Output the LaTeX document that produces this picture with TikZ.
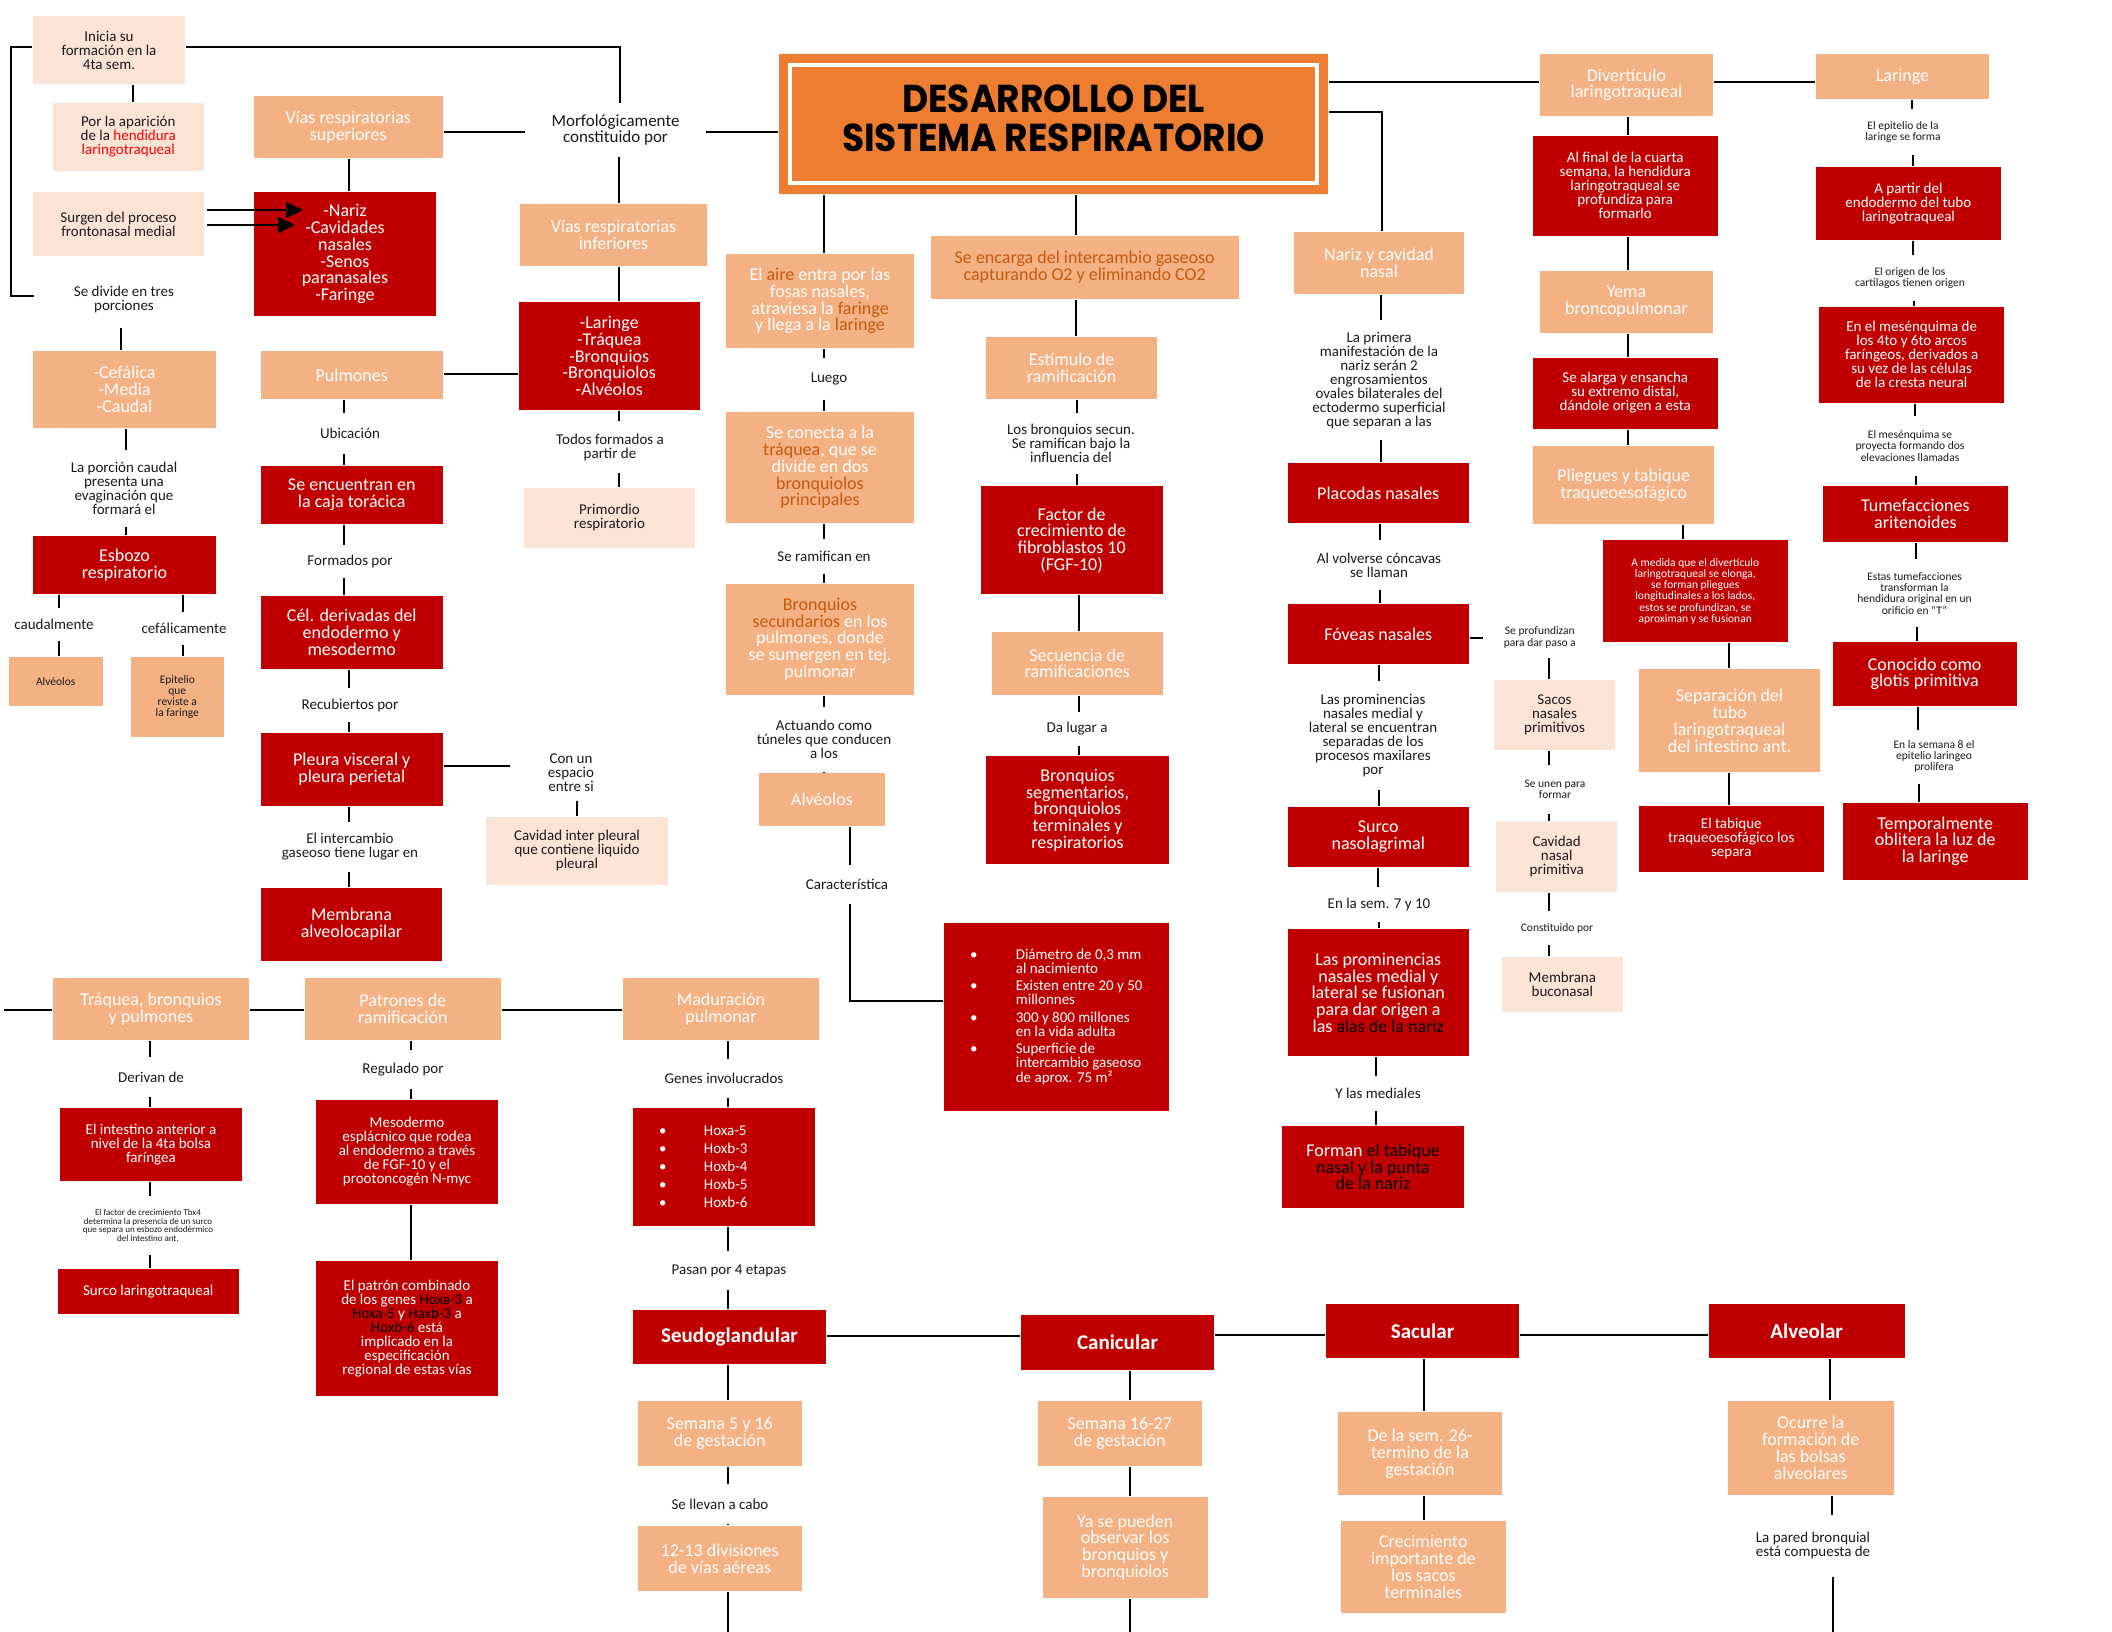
\documentclass[tikz,border=0pt]{standalone}
\usepackage{fontspec}
\setmainfont{Carlito}
\newfontfamily\ttlfont{Poppins}
\usetikzlibrary{arrows.meta}

\definecolor{cred}{HTML}{C00000}
\definecolor{csal}{HTML}{F4B183}
\definecolor{cpch}{HTML}{FBE4D6}
\definecolor{corg}{HTML}{ED7D31}
\definecolor{dor}{HTML}{C55A11}
\definecolor{bright}{HTML}{FF0000}
\definecolor{ink}{HTML}{1A1A1A}

\newcommand\fsA{\fontsize{18}{16.8}\selectfont}
\newcommand\fsB{\fontsize{15}{14}\selectfont}
\newcommand\fsC{\fontsize{11.5}{11.3}\selectfont}
\newcommand\fsD{\fontsize{9}{8.6}\selectfont}
\newcommand\fsE{\fontsize{21}{22}\selectfont\bfseries}
\newcommand\fsM{\fontsize{17}{15.7}\selectfont}

% box from (x1,y1) to (x2,y2), y grows downwards
\newcommand\bx[7]{\node[#2,minimum width={(#5)-(#3)},minimum height={(#6)-(#4)}] (#1) at ({((#3)+(#5))/2},{((#4)+(#6))/2}) {#7};}
% vertical connector at x, horizontal connector at y
\newcommand\vc[3]{\draw (#1.south -| #3,0) -- (#2.north -| #3,0);}
\newcommand\hc[3]{\draw (#1.east |- 0,#3) -- (#2.west |- 0,#3);}

\tikzset{
  redbox/.style={fill=cred,text=white,font=\fsA,align=center,inner sep=1pt},
  salbox/.style={fill=csal,text=white,font=\fsA,align=center,inner sep=1pt},
  pchbox/.style={fill=cpch,text=ink,font=\fsB,align=center,inner sep=1pt},
  lbl/.style={text=ink,font=\fsB,align=center,inner sep=0pt},
  arrowlink/.style={-{Triangle[length=17pt,width=16pt]}},
}

\begin{document}
\begin{tikzpicture}[x=1pt,y=-1pt,line width=2pt]
\fill[white] (0,0) rectangle (2112,1632);
\useasboundingbox (0,0) rectangle (2112,1632);

% ---------- title ----------
\bx{titlebg}{fill=corg,inner sep=0pt}{778.6}{53.6}{1328}{194}{}
\node[draw=white,line width=4pt,minimum width=527.3,minimum height=118,inner sep=0pt] (ttl) at (1053.6,124)
  {\scalebox{1}[1.08]{\ttlfont\bfseries\fontsize{36}{35}\selectfont\begin{tabular}{@{}c@{}}DESARROLLO DEL\\SISTEMA RESPIRATORIO\end{tabular}}};

% ---------- upper left ----------
\bx{ini}{pchbox}{33}{16}{185}{84}{Inicia su\\formación en la\\4ta sem.}
\bx{apa}{pchbox}{52.5}{103}{204}{171}{Por la aparición\\de la \textcolor{bright}{hendidura}\\\textcolor{bright}{laringotraqueal}}
\bx{sur}{pchbox}{33}{192}{204}{256}{Surgen del proceso\\frontonasal medial}
\bx{div3}{lbl}{35}{272}{213}{327}{Se divide en tres\\porciones}
\bx{ces}{salbox}{254}{96}{442.5}{158}{Vías respiratorias\\superiores}
\bx{nar}{redbox}{254}{192}{436}{316}{-Nariz\\-Cavidades\\nasales\\-Senos\\paranasales\\-Faringe}
\bx{morf}{lbl,font=\fsM}{526}{104}{705}{156}{Morfológicamente\\constituido por}
\bx{cin}{salbox}{520}{204}{707}{266}{Vías respiratorias\\inferiores}
\bx{lar}{redbox}{518.6}{302}{700}{410}{-Laringe\\-Tráquea\\-Bronquios\\-Bronquiolos\\-Alvéolos}
\bx{tod}{lbl}{540}{422}{680}{472}{Todos formados a\\partir de}
\bx{pri}{pchbox}{524}{488}{695}{547.5}{Primordio\\respiratorio}
\bx{pul}{salbox}{261}{351}{442.5}{399}{Pulmones}
\bx{ubi}{lbl}{300}{413.6}{400}{453}{Ubicación}
\bx{enc}{redbox}{261}{466}{442.5}{523.6}{Se encuentran en\\la caja torácica}
\bx{forp}{lbl}{300}{546}{400}{577}{Formados por}
\bx{cel}{redbox}{261}{596}{442.5}{668.6}{Cél. derivadas del\\endodermo y\\mesodermo}
\bx{rec}{lbl}{290}{689}{410}{721}{Recubiertos por}
\bx{ple}{redbox}{261}{733}{442.5}{806}{Pleura visceral y\\pleura perietal}
\bx{con}{lbl}{511}{745}{631}{800}{Con un\\espacio\\entre si}
\bx{cav}{pchbox}{486}{817}{668}{884.6}{Cavidad inter pleural\\que contiene liquido\\pleural}
\bx{inter}{lbl}{270}{823}{430}{871}{El intercambio\\gaseoso tiene lugar en}
\bx{mem}{redbox}{261}{888}{442}{961}{Membrana\\alveolocapilar}
\bx{cef}{salbox}{33}{351}{216}{428}{-Cefálica\\-Media\\-Caudal}
\bx{porc}{lbl}{54}{451}{194}{526}{La porción caudal\\presenta una\\evaginación que\\formará el}
\bx{esb}{redbox}{33}{536}{216}{593.6}{Esbozo\\respiratorio}
\bx{caud}{lbl}{10}{608.6}{98}{640}{caudalmente}
\bx{cefa}{lbl}{134}{612.5}{234}{644}{cefálicamente}
\bx{alv1}{salbox,text=ink,font=\fsC}{9}{657}{102.5}{706}{Alvéolos}
\bx{epi}{salbox,text=ink,font=\fsC}{131}{657}{223.6}{737}{Epitelio\\que\\reviste a\\la faringe}

% ---------- centre column ----------
\bx{aire}{salbox}{726}{254}{914}{348}{El \textcolor{dor}{aire} entra por las\\fosas nasales,\\atraviesa la \textcolor{dor}{faringe}\\y llega a la \textcolor{dor}{laringe}}
\bx{luego}{lbl}{790}{359}{868}{398.6}{Luego}
\bx{cnt}{salbox}{726}{412}{914}{523}{Se conecta a la\\\textcolor{dor}{tráquea}, que se\\divide en dos\\\textcolor{dor}{bronquiolos}\\\textcolor{dor}{principales}}
\bx{ram}{lbl}{764}{540}{884}{572.5}{Se ramifican en}
\bx{bsec}{salbox}{726}{583.6}{914}{694.6}{\textcolor{dor}{Bronquios}\\\textcolor{dor}{secundarios} en los\\pulmones, donde\\se sumergen en tej.\\pulmonar}
\bx{act}{lbl}{744}{708}{904}{771.4}{Actuando como\\túneles que conducen\\a los}
\bx{alv2}{salbox}{759}{773}{885}{826}{Alvéolos}
\bx{cara}{lbl}{800}{865.7}{894}{902.5}{Característica}
\bx{alist}{redbox,font=\fsB,align=left}{944}{923}{1168.6}{1111}{%
\makebox[45.7pt][l]{\textbullet}Diámetro de 0,3 mm\\\hspace*{45.7pt}al nacimiento\\[3.5pt]%
\makebox[45.7pt][l]{\textbullet}Existen entre 20 y 50\\\hspace*{45.7pt}millonnes\\[3.5pt]%
\makebox[45.7pt][l]{\textbullet}300 y 800 millones\\\hspace*{45.7pt}en la vida adulta\\[3.5pt]%
\makebox[45.7pt][l]{\textbullet}Superficie de\\\hspace*{45.7pt}intercambio gaseoso\\\hspace*{45.7pt}de aprox. 75 m²}

\bx{enca}{salbox,text=dor}{930.7}{236.4}{1238.6}{298.6}{Se encarga del intercambio gaseoso\\capturando O2 y eliminando CO2}
\bx{est}{salbox}{986.4}{337}{1156.8}{399}{Estímulo de\\ramificación}
\bx{lbs}{lbl}{996}{413.6}{1146}{473}{Los bronquios secun.\\Se ramifican bajo la\\influencia del}
\bx{fgf}{redbox}{980.7}{486.4}{1162.5}{594}{Factor de\\crecimiento de\\fibroblastos 10\\(FGF-10)}
\bx{sec}{salbox}{992}{632}{1162.5}{694.6}{Secuencia de\\ramificaciones}
\bx{dal}{lbl}{1027}{712.5}{1127}{745}{Da lugar a}
\bx{bseg}{redbox}{986.4}{756.4}{1168.6}{864}{Bronquios\\segmentarios,\\bronquiolos\\terminales y\\respiratorios}

% ---------- nose column ----------
\bx{nyc}{salbox}{1294}{232}{1464}{294}{Nariz y cavidad\\nasal}
\bx{prim}{lbl}{1288}{321.4}{1470}{439}{La primera\\manifestación de la\\nariz serán 2\\engrosamientos\\ovales bilaterales del\\ectodermo superficial\\que separan a las}
\bx{plac}{redbox}{1287.5}{463}{1469}{523}{Placodas nasales}
\bx{volv}{lbl}{1300}{541}{1458}{589}{Al volverse cóncavas\\se llaman}
\bx{fov}{redbox}{1287.5}{604}{1469}{664}{Fóveas nasales}
\bx{prof}{lbl,font=\fsC}{1483.6}{618}{1596}{657}{Se profundizan\\para dar paso a}
\bx{sacos}{pchbox}{1494}{680}{1615}{749.6}{Sacos\\nasales\\primitivos}
\bx{unen}{lbl,font=\fsC}{1500}{765.7}{1610}{812.5}{Se unen para\\formar}
\bx{cnp}{pchbox}{1496.4}{822}{1617}{891.8}{Cavidad\\nasal\\primitiva}
\bx{cpor}{lbl,font=\fsC}{1500}{912}{1614}{944}{Constituido por}
\bx{buc}{pchbox}{1501.8}{957}{1622.9}{1011.8}{Membrana\\buconasal}
\bx{lpr}{lbl}{1290}{682}{1456}{789}{Las prominencias\\nasales medial y\\lateral se encuentran\\separadas de los\\procesos maxilares\\por}
\bx{snl}{redbox}{1287.5}{807}{1469}{866.8}{Surco\\nasolagrimal}
\bx{sem710}{lbl}{1320}{888}{1438}{921.4}{En la sem. 7 y 10}
\bx{fus}{redbox}{1287.5}{929.3}{1469}{1056.4}{Las prominencias\\nasales medial y\\lateral se fusionan\\para dar origen a\\las \textcolor{black}{alas de la nariz}}
\bx{ymed}{lbl}{1320}{1076.8}{1436}{1109.6}{Y las mediales}
\bx{form}{redbox}{1282}{1126.4}{1464}{1207.5}{Forman \textcolor{black}{el tabique}\\\textcolor{black}{nasal y la punta}\\\textcolor{black}{de la nariz}}

% ---------- laryngotracheal diverticulum column ----------
\bx{dvt}{salbox}{1540}{53.6}{1712.9}{116}{Divertículo\\laringotraqueal}
\bx{alf}{redbox,font=\fsB}{1533}{135.7}{1717.5}{235.7}{Al final de la cuarta\\semana, la hendidura\\laringotraqueal se\\profundiza para\\formarlo}
\bx{yema}{salbox}{1540}{271}{1712.9}{333}{Yema\\broncopulmonar}
\bx{sal1}{redbox,font=\fsB}{1533}{357.5}{1717.5}{428.6}{Se alarga y ensancha\\su extremo distal,\\dándole origen a esta}
\bx{plg}{salbox}{1533}{446.4}{1714.3}{523.6}{Pliegues y tabique\\traqueoesofágico}
\bx{med}{redbox,font=\fsC}{1603}{540.4}{1787.5}{642}{A medida que el divertículo\\laringotraqueal se elonga,\\se forman pliegues\\longitudinales a los lados,\\estos se profundizan, se\\aproximan y se fusionan}
\bx{sep}{salbox}{1639}{669.3}{1820}{772}{Separación del\\tubo\\laringotraqueal\\del intestino ant.}
\bx{tab}{redbox,font=\fsB}{1639}{805.7}{1823.6}{872}{El tabique\\traqueoesofágico los\\separa}

% ---------- larynx column ----------
\bx{lrg}{salbox}{1816}{53.6}{1989}{99.3}{Laringe}
\bx{epl}{lbl,font=\fsC}{1850}{109.6}{1956}{154}{El epitelio de la\\laringe se forma}
\bx{apt}{redbox,font=\fsB}{1816}{167}{2000.7}{240}{A partir del\\endodermo del tubo\\laringotraqueal}
\bx{orc}{lbl,font=\fsC}{1845}{255.7}{1975}{300}{El origen de los\\cartilagos tienen origen}
\bx{mes}{redbox,font=\fsB}{1819.3}{307}{2004}{402.5}{En el mesénquima de\\los 4to y 6to arcos\\faríngeos, derivados a\\su vez de las células\\de la cresta neural}
\bx{mpr}{lbl,font=\fsC}{1845}{416.8}{1975}{475}{El mesénquima se\\proyecta formando dos\\elevaciones llamadas}
\bx{tum}{redbox}{1822.9}{486.4}{2007.9}{542}{Tumefacciones\\aritenoides}
\bx{etu}{lbl,font=\fsC}{1845}{560.4}{1984}{626}{Estas tumefacciones\\transforman la\\hendidura original en un\\orificio en “T”}
\bx{glo}{redbox}{1832.5}{642}{2016.8}{705.7}{Conocido como\\glotis primitiva}
\bx{s8}{lbl,font=\fsC}{1870}{730.7}{1998}{782.5}{En la semana 8 el\\epitelio laringeo\\prolifera}
\bx{tmp}{redbox}{1842.9}{802.5}{2027.5}{880}{Temporalmente\\oblitera la luz de\\la laringe}

% ---------- lower band ----------
\coordinate (lstub) at (4,1009.6);
\bx{traq}{salbox}{53}{978}{249}{1040}{Tráquea, bronquios\\y pulmones}
\bx{pat}{salbox}{304.6}{978}{501}{1040}{Patrones de\\ramificación}
\bx{mad}{salbox}{623}{978}{819}{1040}{Maduración\\pulmonar}
\bx{der}{lbl}{100}{1058}{202}{1096}{Derivan de}
\bx{int}{redbox,font=\fsB}{60}{1107.5}{242}{1181}{El intestino anterior a\\nivel de la 4ta bolsa\\faríngea}
\bx{tbx}{lbl,font=\fsD}{60}{1197}{236}{1253.6}{El factor de crecimiento Tbx4\\determina la presencia de un surco\\que separa un esbozo endodérmico\\del intestino ant.}
\bx{slt}{redbox,font=\fsB}{57.5}{1269}{239}{1313.6}{Surco laringotraqueal}
\bx{reg}{lbl}{353}{1051}{453}{1088}{Regulado por}
\bx{meso}{redbox,font=\fsB}{316}{1100}{498}{1204}{Mesodermo\\esplácnico que rodea\\al endodermo a través\\de FGF-10 y el\\prootoncogén N-myc}
\bx{patc}{redbox,font=\fsB}{316}{1261}{498}{1396}{El patrón combinado\\de los genes \textcolor{black}{Hoxa-3} a\\\textcolor{black}{Hoxa-5} y \textcolor{black}{Haxb-3} a\\\textcolor{black}{Hoxb-6} está\\implicado en la\\especificación\\regional de estas vías}
\bx{gen}{lbl}{660}{1060}{788}{1097}{Genes involucrados}
\bx{glist}{redbox,font=\fontsize{15}{18}\selectfont,align=left,text width=130pt}{633}{1107.5}{815}{1225.7}{%
\makebox[45pt][l]{\textbullet}Hoxa-5\\\makebox[45pt][l]{\textbullet}Hoxb-3\\\makebox[45pt][l]{\textbullet}Hoxb-4\\\makebox[45pt][l]{\textbullet}Hoxb-5\\\makebox[45pt][l]{\textbullet}Hoxb-6}
\bx{pasan}{lbl}{662}{1252}{796}{1289}{Pasan por 4 etapas}
\bx{seu}{redbox,font=\fsE}{633}{1310}{826}{1364}{Seudoglandular}
\bx{s516}{salbox}{637.5}{1401}{802}{1466}{Semana 5 y 16\\de gestación}
\bx{llev}{lbl}{664}{1485}{776}{1523}{Se llevan a cabo}
\bx{dva}{salbox}{637.5}{1526}{802}{1591}{12-13 divisiones\\de vías aéreas}
\bx{can}{redbox,font=\fsE}{1021}{1315}{1214}{1369.6}{Canicular}
\bx{sac}{redbox,font=\fsE}{1326}{1303.6}{1519}{1358}{Sacular}
\bx{alvr}{redbox,font=\fsE}{1708.6}{1303.6}{1904.6}{1358}{Alveolar}
\bx{s1627}{salbox}{1037.5}{1401}{1202}{1466.4}{Semana 16-27\\de gestación}
\bx{yas}{salbox}{1043}{1497}{1207.5}{1598}{Ya se pueden\\observar los\\bronquios y\\bronquiolos}
\bx{d26}{salbox}{1338}{1412}{1502}{1495}{De la sem. 26-\\termino de la\\gestación}
\bx{crec}{salbox}{1341}{1520.7}{1505.7}{1613}{Crecimiento\\importante de\\los sacos\\terminales}
\bx{ocu}{salbox}{1727.5}{1401}{1894}{1495}{Ocurre la\\formación de\\las bolsas\\alveolares}
\bx{pared}{lbl}{1752}{1515.7}{1874}{1576}{La pared bronquial\\está compuesta de}
\coordinate (b1) at (728,1632);
\coordinate (b2) at (1129.6,1632);
\coordinate (b3) at (1833,1632);

% ---------- connectors ----------
\draw (ini.east |- 0,47.5) -| (morf.north -| 620,0);
\draw (ini.west |- 0,47.5) -- ++(-21,0) |- (div3.west |- 0,296);
\vc{ini}{apa}{133}
\hc{ces}{morf}{132}
\hc{morf}{titlebg}{132.5}
\vc{ces}{nar}{349}
\vc{morf}{cin}{619}
\vc{cin}{lar}{619}
\vc{lar}{tod}{619}
\vc{tod}{pri}{619}
\hc{pul}{lar}{374}
\vc{pul}{ubi}{343.5}
\vc{ubi}{enc}{343.5}
\vc{enc}{forp}{343.5}
\vc{forp}{cel}{343.5}
\vc{cel}{rec}{349}
\vc{rec}{ple}{349}
\vc{ple}{inter}{349}
\vc{inter}{mem}{349}
\hc{ple}{con}{766}
\vc{con}{cav}{577}
\vc{div3}{cef}{121}
\vc{cef}{porc}{126}
\vc{porc}{esb}{126}
\vc{esb}{caud}{59}
\vc{caud}{alv1}{59}
\vc{esb}{cefa}{183}
\vc{cefa}{epi}{183}

\coordinate (a1) at (303,210);
\coordinate (a2) at (295,225);
\draw[arrowlink] (sur.east |- 0,210) ++(2,0) -- (a1);
\draw[arrowlink] (sur.east |- 0,225) ++(2,0) -- (a2);

\vc{titlebg}{aire}{824}
\vc{aire}{luego}{824}
\vc{luego}{cnt}{824}
\vc{cnt}{ram}{824}
\vc{ram}{bsec}{824}
\vc{bsec}{act}{824}
\vc{act}{alv2}{824}
\vc{alv2}{cara}{849.6}
\draw (cara.south -| 849.6,0) |- (alist.west |- 0,1000.7);

\vc{titlebg}{enca}{1075.7}
\vc{enca}{est}{1076.4}
\vc{est}{lbs}{1077}
\vc{lbs}{fgf}{1077}
\vc{fgf}{sec}{1078.6}
\vc{sec}{dal}{1079}
\vc{dal}{bseg}{1079}

\draw (titlebg.east |- 0,112) -| (nyc.north -| 1382,0);
\vc{nyc}{prim}{1381.4}
\vc{prim}{plac}{1380.7}
\vc{plac}{volv}{1380}
\vc{volv}{fov}{1379.6}
\hc{fov}{prof}{637.5}
\vc{prof}{sacos}{1549}
\vc{sacos}{unen}{1549}
\vc{unen}{cnp}{1549}
\vc{cnp}{cpor}{1549}
\vc{cpor}{buc}{1549}
\vc{fov}{lpr}{1379}
\vc{lpr}{snl}{1378.6}
\vc{snl}{sem710}{1378}
\vc{sem710}{fus}{1378.6}
\vc{fus}{ymed}{1376.4}
\vc{ymed}{form}{1376.4}

\hc{titlebg}{dvt}{82}
\hc{dvt}{lrg}{82}
\vc{dvt}{alf}{1627.5}
\vc{alf}{yema}{1627.5}
\vc{yema}{sal1}{1627.5}
\vc{sal1}{plg}{1627.5}
\vc{plg}{med}{1683}
\vc{med}{sep}{1729.3}
\vc{sep}{tab}{1729.3}

\vc{lrg}{epl}{1912}
\vc{epl}{apt}{1912.6}
\vc{apt}{orc}{1913}
\vc{orc}{mes}{1914}
\vc{mes}{mpr}{1915}
\vc{mpr}{tum}{1915.7}
\vc{tum}{etu}{1916.4}
\vc{etu}{glo}{1917}
\vc{glo}{s8}{1918}
\vc{s8}{tmp}{1919}

\draw (lstub) -- (traq.west |- 0,1009.6);
\hc{traq}{pat}{1009.6}
\hc{pat}{mad}{1009.6}
\vc{traq}{der}{150}
\vc{der}{int}{150}
\vc{int}{tbx}{150}
\vc{tbx}{slt}{150}
\vc{pat}{reg}{411}
\vc{reg}{meso}{411}
\vc{meso}{patc}{411}
\vc{mad}{gen}{728}
\vc{gen}{glist}{728}
\vc{glist}{pasan}{728}
\vc{pasan}{seu}{728}
\vc{seu}{s516}{728}
\vc{s516}{llev}{728}
\vc{llev}{dva}{728}
\draw (dva.south -| b1) -- (b1);
\hc{seu}{can}{1335.7}
\hc{can}{sac}{1335}
\hc{sac}{alvr}{1334.6}
\vc{can}{s1627}{1129.6}
\vc{s1627}{yas}{1129.6}
\draw (yas.south -| b2) -- (b2);
\vc{sac}{d26}{1424}
\vc{d26}{crec}{1424}
\vc{alvr}{ocu}{1829.6}
\vc{ocu}{pared}{1832}
\draw (pared.south -| b3) -- (b3);
\end{tikzpicture}
\end{document}
